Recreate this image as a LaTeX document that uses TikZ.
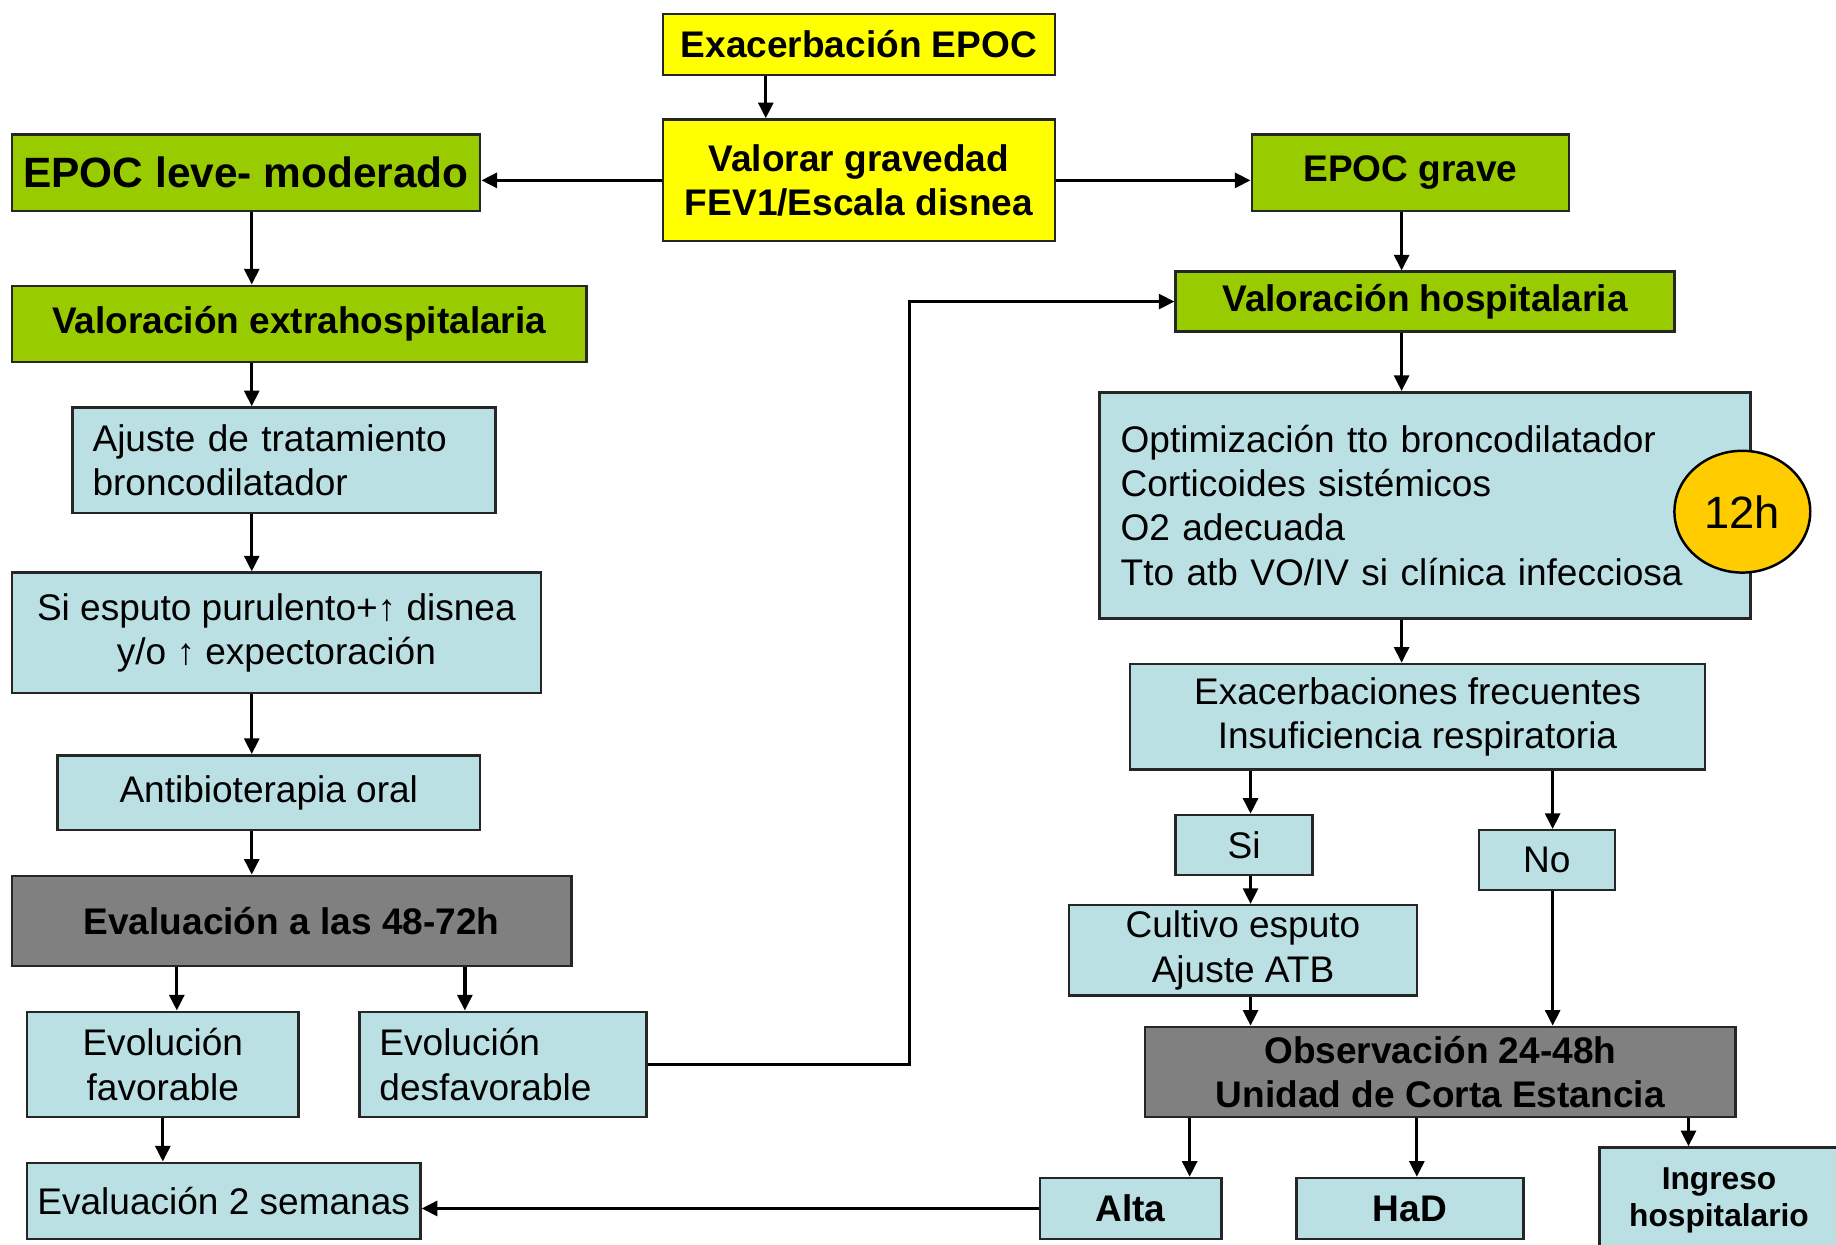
\documentclass[tikz,border=0pt]{standalone}
\usepackage{fontspec}
\setmainfont{Liberation Sans}
\usepackage{xcolor}
\usepackage{tikz}
\usetikzlibrary{arrows.meta,positioning,shapes.geometric}
\definecolor{epocyellow}{HTML}{FFFF00}
\definecolor{epocgreen}{HTML}{99CC00}
\definecolor{epocblue}{HTML}{BBE0E3}
\definecolor{epocgray}{HTML}{808080}
\definecolor{epocgold}{HTML}{FFCC00}
\newcommand{\txt}{\fontsize{9}{10.8}\selectfont}
\tikzset{
  block/.style={draw=black!85, line width=0.6pt, inner sep=0pt, align=center,
                anchor=north west, font=\txt},
  start/.style={block, fill=epocyellow, font=\txt\bfseries},
  stage/.style={block, fill=epocgreen, font=\txt\bfseries},
  action/.style={block, fill=epocblue},
  outcome/.style={block, fill=epocblue, font=\txt\bfseries},
  checkpt/.style={block, fill=epocgray, font=\txt\bfseries},
  timer/.style={ellipse, draw=black, line width=0.6pt, fill=epocgold, inner sep=0pt,
                minimum width=1.16cm, minimum height=1.04cm,
                font=\fontsize{11}{13}\selectfont},
  arrow/.style={-{Triangle[length=3.8pt,width=3.6pt]}, line width=0.8pt}
}

\begin{document}
\begin{tikzpicture}
  \path[use as bounding box, fill=white] (0,0) rectangle (15.68,-10.63);
  \node[start, minimum width=3.35cm, minimum height=0.52cm] (exa) at (5.65,-0.11) {Exacerbación EPOC};
  \node[start, minimum width=3.35cm, minimum height=1.04cm] (val) at (5.65,-1.01) {Valorar gravedad\\FEV1/Escala disnea};
  \node[stage, minimum width=4.00cm, minimum height=0.65cm, font=\fontsize{10.3}{12}\selectfont\bfseries] (leve) at (0.09,-1.14) {EPOC leve- moderado};
  \node[stage, minimum width=2.71cm, minimum height=0.65cm] (grave) at (10.68,-1.14) {EPOC grave};
  \node[stage, minimum width=4.91cm, minimum height=0.65cm] (extra) at (0.09,-2.43) {Valoración extrahospitalaria};
  \node[stage, minimum width=4.26cm, minimum height=0.51cm] (hosp) at (10.03,-2.31) {Valoración hospitalaria};
  \node[action, text width=3.27cm, inner xsep=0.17cm, align=left, minimum height=0.90cm] (ajuste) at (0.61,-3.47) {Ajuste de tratamiento\\broncodilatador};
  \node[action, minimum width=4.52cm, minimum height=1.03cm] (esputo) at (0.09,-4.88) {Si esputo purulento+↑ disnea\\y/o ↑ expectoración};
  \node[action, minimum width=3.61cm, minimum height=0.64cm] (anti) at (0.48,-6.44) {Antibioterapia oral};
  \node[checkpt, minimum width=4.78cm, minimum height=0.77cm] (eval) at (0.09,-7.47) {Evaluación a las 48-72h};
  \node[action, minimum width=2.32cm, minimum height=0.90cm] (fav) at (0.22,-8.63) {Evolución\\favorable};
  \node[action, text width=2.11cm, inner xsep=0.17cm, align=left, minimum height=0.90cm] (desf) at (3.06,-8.63) {Evolución\\desfavorable};
  \node[action, minimum width=3.36cm, minimum height=0.65cm] (sem) at (0.22,-9.92) {Evaluación 2 semanas};
  \node[action, text width=5.20cm, inner xsep=0.18cm, align=left, minimum height=1.93cm] (optim) at (9.38,-3.34) {Optimización tto broncodilatador\\Corticoides sistémicos\\O2 adecuada\\Tto atb VO/IV si clínica infecciosa};
  \node[timer] (clock) at (14.88,-4.37) {12h};
  \node[action, minimum width=4.91cm, minimum height=0.90cm] (frec) at (9.64,-5.66) {Exacerbaciones frecuentes\\Insuficiencia respiratoria};
  \node[action, minimum width=1.17cm, minimum height=0.51cm] (si) at (10.03,-6.95) {Si};
  \node[action, minimum width=1.16cm, minimum height=0.51cm] (no) at (12.62,-7.08) {No};
  \node[action, minimum width=2.97cm, minimum height=0.77cm] (cult) at (9.12,-7.72) {Cultivo esputo\\Ajuste ATB};
  \node[checkpt, minimum width=5.04cm, minimum height=0.77cm] (obs) at (9.77,-8.76) {Observación 24-48h\\Unidad de Corta Estancia};
  \node[outcome, minimum width=1.55cm, minimum height=0.52cm] (alta) at (8.87,-10.05) {Alta};
  \node[outcome, minimum width=1.94cm, minimum height=0.52cm] (had) at (11.06,-10.05) {HaD};
  \node[outcome, minimum width=2.04cm, minimum height=0.90cm, font=\fontsize{7.7}{9.1}\selectfont\bfseries] (ingreso) at (13.65,-9.79) {Ingreso\\hospitalario};

  \coordinate (ex) at (6.54,0);
  \coordinate (lx) at (2.15,0);
  \coordinate (rx) at (11.97,0);
  \coordinate (sx) at (10.68,0);
  \coordinate (nx) at (13.26,0);
  \coordinate (fx) at (1.51,0);
  \coordinate (dx) at (3.97,0);
  \coordinate (ax) at (10.16,0);
  \coordinate (hx) at (12.10,0);
  \coordinate (ix) at (14.42,0);
  \coordinate (bend) at (7.77,0);

  \foreach \u/\v/\x in {exa/val/ex, leve/extra/lx, extra/ajuste/lx, ajuste/esputo/lx,
      esputo/anti/lx, anti/eval/lx, eval/fav/fx, eval/desf/dx, fav/sem/fav,
      grave/hosp/rx, hosp/optim/rx, optim/frec/rx, frec/si/sx, si/cult/sx, cult/obs/sx,
      frec/no/nx, no/obs/nx, obs/alta/ax, obs/had/hx, obs/ingreso/ix}
    \draw[arrow] (\u.south -| \x) -- (\v.north -| \x);
  \draw[arrow] (val.west) -- (val.west -| leve.east);
  \draw[arrow] (val.east) -- (val.east -| grave.west);
  \draw[arrow] (desf.east) -- (desf.east -| bend) |- (hosp.west);
  \draw[arrow] (alta.west) -- (alta.west -| sem.east);
\end{tikzpicture}
\end{document}
